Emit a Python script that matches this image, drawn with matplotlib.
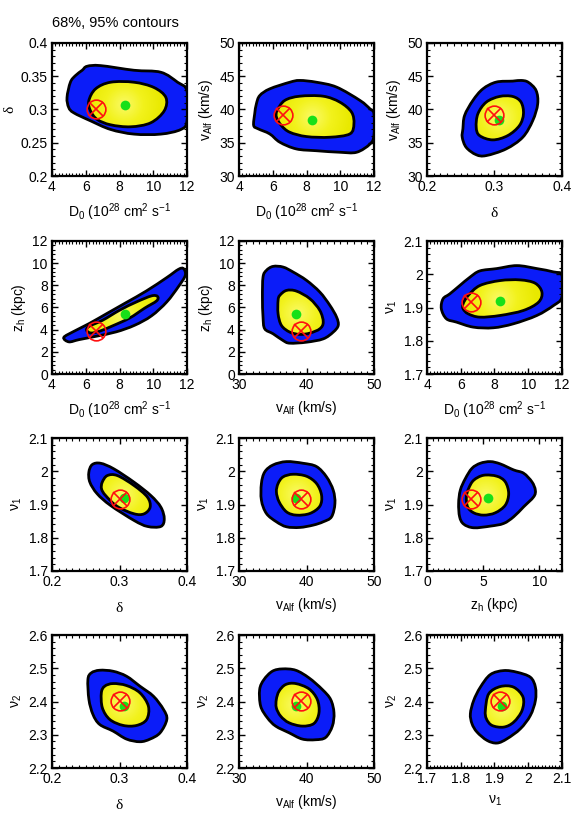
import numpy as np
import matplotlib
matplotlib.use('Agg')
import matplotlib.pyplot as plt
from matplotlib.path import Path
from matplotlib.patches import PathPatch
from matplotlib.ticker import AutoMinorLocator, FuncFormatter, FixedLocator
from matplotlib.colors import LinearSegmentedColormap

plt.rcParams['font.family'] = ['Liberation Sans', 'DejaVu Sans']
plt.rcParams['mathtext.fontset'] = 'custom'
plt.rcParams['mathtext.rm'] = 'Liberation Sans'
plt.rcParams['mathtext.it'] = 'Liberation Sans:italic'
plt.rcParams['mathtext.bf'] = 'Liberation Sans:bold'

# ---------------- data ----------------
param_names = ['D0', 'delta', 'vA', 'zh', 'nu1', 'nu2']
best_fit = [6.6, 0.300, 39.2, 3.9, 1.916, 2.403]
post_mean = [8.3, 0.307, 38.4, 5.45, 1.921, 2.385]

# panel pairs (x parameter, y parameter)
panel_pairs = [('D0', 'delta'), ('D0', 'vA'), ('delta', 'vA'),
               ('D0', 'zh'), ('vA', 'zh'), ('D0', 'nu1'),
               ('delta', 'nu1'), ('vA', 'nu1'), ('zh', 'nu1'),
               ('delta', 'nu2'), ('vA', 'nu2'), ('nu1', 'nu2')]

# 95% (outer) and 68% (inner) contour outlines
p1_out_x = [5.79, 6.08, 6.88, 8.86, 10.45, 11.44, 12.0, 12.0, 11.64, 10.45, 8.86, 7.47, 6.28, 5.29, 4.99, 4.89, 5.09, 5.39]
p1_out_y = [0.359, 0.365, 0.366, 0.359, 0.356, 0.341, 0.328, 0.283, 0.270, 0.263, 0.263, 0.270, 0.283, 0.295, 0.303, 0.318, 0.341, 0.351]
p1_in_x = [6.18, 6.58, 7.47, 8.86, 10.05, 10.75, 10.65, 9.85, 8.66, 7.47, 6.68, 6.28]
p1_in_y = [0.313, 0.331, 0.341, 0.341, 0.333, 0.318, 0.298, 0.280, 0.274, 0.277, 0.285, 0.298]

p2_out_x = [5.23, 5.82, 7.01, 7.60, 8.59, 9.78, 11.17, 11.76, 12.0, 12.0, 11.76, 10.97, 9.98, 8.59, 7.4, 6.42, 5.82, 5.13, 4.87, 4.93, 5.03]
p2_out_y = [42.1, 43.1, 44.1, 44.37, 44.1, 43.37, 41.36, 40.1, 39.35, 36.1, 34.8, 33.57, 33.57, 33.8, 34.07, 35.08, 36.33, 37.1, 37.6, 39.35, 40.85]
p2_in_x = [6.26, 6.71, 7.6, 8.99, 9.98, 10.67, 10.81, 10.57, 9.39, 8.0, 7.01, 6.51, 6.22]
p2_in_y = [39.85, 41.36, 42.0, 42.0, 41.1, 39.6, 37.84, 36.33, 35.83, 35.93, 36.58, 37.59, 38.84]

p3_out_x = [0.2532, 0.2557, 0.268, 0.2828, 0.3025, 0.327, 0.3394, 0.35, 0.3616, 0.364, 0.3567, 0.3419, 0.3172, 0.2877, 0.2729, 0.2581, 0.2522]
p3_out_y = [37.09, 39.1, 41.36, 43.1, 44.12, 44.27, 44.37, 44.1, 42.86, 40.85, 38.34, 35.83, 34.07, 33.07, 33.2, 34.3, 35.83]
p3_in_x = [0.2729, 0.2754, 0.2877, 0.3074, 0.327, 0.3394, 0.3429, 0.337, 0.3197, 0.2975, 0.2778]
p3_in_y = [37.34, 39.35, 41.1, 41.96, 41.96, 41.1, 39.35, 37.59, 36.08, 35.43, 36.08]

p4_out_x = [4.7, 5.3, 6.2, 7.3, 8.4, 9.6, 10.8, 11.5, 11.8, 11.9, 11.5, 10.8, 9.9, 8.9, 7.8, 6.6, 5.6, 5.0]
p4_out_y = [3.3, 3.85, 4.55, 5.5, 6.45, 7.5, 8.7, 9.45, 9.5, 8.9, 7.9, 6.5, 5.25, 4.4, 3.8, 3.4, 3.1, 2.9]
p4_in_x = [6.2, 7.0, 8.0, 9.0, 9.9, 10.25, 10.2, 9.5, 8.6, 7.6, 6.8, 6.3, 6.05]
p4_in_y = [4.3, 4.85, 5.75, 6.5, 7.05, 7.0, 6.6, 5.95, 5.05, 4.35, 3.85, 3.7, 3.95]

p5_out_x = [33.56, 34.06, 35.05, 36.53, 38.02, 40.0, 41.98, 43.47, 44.46, 44.7, 43.96, 42.48, 40.0, 37.52, 36.53, 35.05, 33.81, 33.56, 33.47]
p5_out_y = [8.75, 9.35, 9.71, 9.65, 9.2, 8.45, 7.39, 6.19, 5.13, 4.38, 3.78, 3.17, 2.87, 2.78, 3.02, 3.63, 4.08, 5.13, 6.94]
p5_in_x = [35.79, 36.04, 37.03, 38.51, 40.5, 41.98, 42.48, 41.98, 40.5, 39.0, 37.52, 36.29, 35.79]
p5_in_y = [6.64, 7.09, 7.54, 7.48, 6.79, 5.73, 4.68, 4.08, 3.69, 3.57, 3.78, 4.38, 5.43]

p6_out_x = [4.85, 4.95, 5.35, 5.94, 6.54, 7.13, 8.13, 9.32, 10.51, 11.5, 12.0, 12.0, 11.5, 10.51, 9.12, 7.93, 6.74, 5.75, 5.15]
p6_out_y = [1.896, 1.926, 1.941, 1.966, 1.991, 2.010, 2.017, 2.026, 2.017, 2.007, 1.997, 1.931, 1.906, 1.876, 1.851, 1.839, 1.841, 1.856, 1.866]
p6_in_x = [6.14, 6.44, 7.13, 8.33, 9.52, 10.41, 10.81, 10.61, 9.71, 8.33, 7.13, 6.44, 6.14]
p6_in_y = [1.911, 1.936, 1.966, 1.981, 1.983, 1.973, 1.946, 1.916, 1.891, 1.876, 1.871, 1.881, 1.896]

p7_out_x = [0.2546, 0.2596, 0.272, 0.2918, 0.3216, 0.3464, 0.3613, 0.3663, 0.3613, 0.3414, 0.3216, 0.2868, 0.267, 0.2561]
p7_out_y = [1.997, 2.02, 2.024, 2.007, 1.967, 1.927, 1.892, 1.857, 1.834, 1.834, 1.852, 1.897, 1.932, 1.967]
p7_in_x = [0.2744, 0.2819, 0.2968, 0.3216, 0.3414, 0.3454, 0.3365, 0.3216, 0.2968, 0.2794, 0.2734]
p7_in_y = [1.967, 1.987, 1.987, 1.957, 1.922, 1.892, 1.872, 1.872, 1.894, 1.927, 1.947]

p8_out_x = [33.32, 33.81, 35.05, 37.03, 39.5, 41.49, 42.97, 43.96, 44.21, 43.71, 42.48, 40.99, 39.0, 37.03, 35.54, 34.06, 33.32]
p8_out_y = [1.963, 1.998, 2.019, 2.029, 2.024, 2.014, 1.983, 1.943, 1.903, 1.863, 1.848, 1.838, 1.831, 1.833, 1.848, 1.873, 1.913]
p8_in_x = [35.79, 36.53, 38.02, 40.0, 41.49, 42.23, 41.98, 40.5, 38.51, 37.03, 35.94, 35.54]
p8_in_y = [1.963, 1.983, 1.991, 1.985, 1.963, 1.928, 1.895, 1.873, 1.868, 1.878, 1.908, 1.938]

p9_out_x = [2.81, 2.96, 3.41, 4.0, 4.74, 5.63, 6.52, 7.7, 8.59, 9.33, 9.63, 9.48, 8.59, 7.7, 6.81, 5.63, 4.15, 3.26, 2.9]
p9_out_y = [1.903, 1.943, 1.978, 2.009, 2.024, 2.029, 2.022, 2.004, 1.994, 1.968, 1.943, 1.923, 1.893, 1.863, 1.843, 1.835, 1.83, 1.841, 1.863]
p9_in_x = [3.5, 3.7, 4.15, 5.04, 6.22, 6.96, 7.26, 6.96, 6.07, 5.04, 4.15, 3.61]
p9_in_y = [1.923, 1.948, 1.973, 1.988, 1.985, 1.968, 1.933, 1.898, 1.875, 1.868, 1.875, 1.893]

p10_out_x = [0.2532, 0.2582, 0.2706, 0.2905, 0.3104, 0.3303, 0.3502, 0.3652, 0.3701, 0.3602, 0.3453, 0.3303, 0.3104, 0.2905, 0.2706, 0.2607, 0.2547]
p10_out_y = [2.466, 2.486, 2.494, 2.491, 2.476, 2.446, 2.416, 2.376, 2.346, 2.306, 2.287, 2.279, 2.287, 2.311, 2.331, 2.361, 2.406]
p10_in_x = [0.2731, 0.2781, 0.2905, 0.3104, 0.3303, 0.3428, 0.3403, 0.3254, 0.3055, 0.2856, 0.2746]
p10_in_y = [2.426, 2.446, 2.454, 2.448, 2.426, 2.386, 2.346, 2.328, 2.328, 2.346, 2.381]

p11_out_x = [33.06, 33.7, 34.94, 36.42, 38.4, 40.37, 42.35, 43.58, 44.07, 43.83, 42.84, 41.36, 39.38, 37.41, 35.43, 34.2, 33.21]
p11_out_y = [2.436, 2.466, 2.491, 2.498, 2.494, 2.471, 2.436, 2.406, 2.366, 2.326, 2.292, 2.285, 2.287, 2.306, 2.326, 2.351, 2.386]
p11_in_x = [35.53, 35.93, 36.91, 38.4, 40.37, 41.6, 41.85, 41.11, 39.38, 37.41, 36.17, 35.53]
p11_in_y = [2.406, 2.431, 2.451, 2.454, 2.438, 2.406, 2.366, 2.334, 2.326, 2.336, 2.356, 2.381]

p12_out_x = [1.8285, 1.8383, 1.858, 1.8877, 1.9273, 1.9668, 2.0063, 2.0212, 2.0212, 2.0063, 1.9767, 1.9372, 1.9075, 1.8779, 1.8482, 1.8334]
p12_out_y = [2.363, 2.403, 2.443, 2.481, 2.493, 2.488, 2.473, 2.443, 2.403, 2.358, 2.318, 2.288, 2.275, 2.283, 2.308, 2.333]
p12_in_x = [1.8729, 1.8828, 1.9174, 1.9569, 1.9846, 1.9816, 1.9569, 1.9273, 1.8927, 1.876]
p12_in_y = [2.373, 2.423, 2.445, 2.443, 2.413, 2.373, 2.338, 2.323, 2.328, 2.348]

outer_x = [p1_out_x, p2_out_x, p3_out_x, p4_out_x, p5_out_x, p6_out_x, p7_out_x, p8_out_x, p9_out_x, p10_out_x, p11_out_x, p12_out_x]
outer_y = [p1_out_y, p2_out_y, p3_out_y, p4_out_y, p5_out_y, p6_out_y, p7_out_y, p8_out_y, p9_out_y, p10_out_y, p11_out_y, p12_out_y]
inner_x = [p1_in_x, p2_in_x, p3_in_x, p4_in_x, p5_in_x, p6_in_x, p7_in_x, p8_in_x, p9_in_x, p10_in_x, p11_in_x, p12_in_x]
inner_y = [p1_in_y, p2_in_y, p3_in_y, p4_in_y, p5_in_y, p6_in_y, p7_in_y, p8_in_y, p9_in_y, p10_in_y, p11_in_y, p12_in_y]

# axis settings
axis_range = {'D0': (4, 12), 'delta': (0.2, 0.4), 'vA': (30, 50), 'zh': (0, 12),
              'nu1': (1.7, 2.1), 'nu2': (2.2, 2.6)}
ticks_as_y = {'delta': [0.2, 0.25, 0.3, 0.35, 0.4], 'vA': [30, 35, 40, 45, 50],
              'zh': [0, 2, 4, 6, 8, 10, 12], 'nu1': [1.7, 1.8, 1.9, 2.0, 2.1],
              'nu2': [2.2, 2.3, 2.4, 2.5, 2.6]}
ticks_as_x = {'D0': [4, 6, 8, 10, 12], 'delta': [0.2, 0.3, 0.4], 'vA': [30, 40, 50],
              'zh': [0, 5, 10], 'nu1': [1.7, 1.8, 1.9, 2.0, 2.1]}
labels = {'D0': r'D$_0$ (10$^{28}$ cm$^2$ s$^{-1}$',
          'delta': 'δ',
          'vA': r'v$_{\rm Alf}$ (km/s)',
          'zh': r'z$_{\rm h}$ (kpc)',
          'nu1': r'ν$_1$',
          'nu2': r'ν$_2$'}

BLUE = '#0b1cf8'
RED = '#ff1010'
GREEN = '#18e018'
ycmap = LinearSegmentedColormap.from_list('yel', ['#fafa66', '#f2f21c', '#e9e900'])


def smooth_path(xs, ys):
    P = np.column_stack([xs, ys]).astype(float)
    n = len(P)
    verts = [P[0]]
    codes = [Path.MOVETO]
    for i in range(n):
        p0, p1, p2, p3 = P[(i - 1) % n], P[i], P[(i + 1) % n], P[(i + 2) % n]
        verts += [p1 + (p2 - p0) / 6.0, p2 - (p3 - p1) / 6.0, p2]
        codes += [Path.CURVE4] * 3
    verts.append(P[0])
    codes.append(Path.CLOSEPOLY)
    return Path(verts, codes)


fig = plt.figure(figsize=(5.82, 8.21), dpi=100)
W, H = 582.0, 821.0
lefts_px = [52, 239, 427]
tops_px = [43, 241, 438, 635]
aw, ah = 135, 133

fmt = FuncFormatter(lambda v, p: '%g' % round(v, 4))

for k, (px, py) in enumerate(panel_pairs):
    r, c = divmod(k, 3)
    ax = fig.add_axes([lefts_px[c] / W, 1 - (tops_px[r] + ah) / H, aw / W, ah / H])
    xlim = axis_range[px]
    ylim = axis_range[py]

    op = smooth_path(outer_x[k], outer_y[k])
    ax.add_patch(PathPatch(op, facecolor=BLUE, edgecolor='black', lw=2.0, zorder=1))
    ip = smooth_path(inner_x[k], inner_y[k])
    ipatch = PathPatch(ip, facecolor='#f0f000', edgecolor='none', zorder=2)
    ax.add_patch(ipatch)
    # gentle radial shading of the yellow region
    cx = (np.mean(inner_x[k]) - xlim[0]) / (xlim[1] - xlim[0])
    cy = (np.mean(inner_y[k]) - ylim[0]) / (ylim[1] - ylim[0])
    gx, gy = np.meshgrid(np.linspace(0, 1, 200), np.linspace(0, 1, 200))
    rr = np.clip(np.hypot(gx - cx, gy - cy) / 0.28, 0, 1)
    im = ax.imshow(rr, extent=[xlim[0], xlim[1], ylim[0], ylim[1]], origin='lower',
                   cmap=ycmap, vmin=0, vmax=1, aspect='auto', zorder=2.1,
                   interpolation='bilinear')
    im.set_clip_path(ipatch)
    ax.add_patch(PathPatch(ip, facecolor='none', edgecolor='black', lw=2.0, zorder=2.2))

    ix = param_names.index(px)
    iy = param_names.index(py)
    ax.plot(post_mean[ix], post_mean[iy], 'o', color=GREEN, ms=7, mec='none', zorder=5)
    ax.plot(best_fit[ix], best_fit[iy], 'o', mfc='none', mec=RED, mew=1.2, ms=13.5, zorder=6)
    ax.plot(best_fit[ix], best_fit[iy], 'x', color=RED, mew=1.2, ms=9.5, zorder=6)

    ax.set_xlim(xlim)
    ax.set_ylim(ylim)
    ax.xaxis.set_major_locator(FixedLocator(ticks_as_x[px]))
    ax.yaxis.set_major_locator(FixedLocator(ticks_as_y[py]))
    ax.xaxis.set_major_formatter(fmt)
    ax.yaxis.set_major_formatter(fmt)
    ax.xaxis.set_minor_locator(AutoMinorLocator(10))
    ax.yaxis.set_minor_locator(AutoMinorLocator(5))
    ax.tick_params(which='both', direction='in', top=True, right=True, labelsize=10)
    ax.tick_params(which='major', length=4.5, width=1.0, pad=3)
    ax.tick_params(which='minor', length=2.2, width=0.8)
    for s in ax.spines.values():
        s.set_linewidth(1.6)

    if px == 'delta':
        ax.set_xlabel(labels[px], fontsize=11, family=['Liberation Serif', 'DejaVu Serif'], labelpad=9)
    else:
        ax.set_xlabel(labels[px], fontsize=10, labelpad=5)
    if py == 'delta':
        ax.set_ylabel(labels[py], fontsize=11, family=['Liberation Serif', 'DejaVu Serif'], labelpad=3)
    else:
        ax.set_ylabel(labels[py], fontsize=10, labelpad=3)

fig.text(52 / W, 1 - 23 / H, '68%, 95% contours', fontsize=10.5, va='center', ha='left')

fig.savefig('out.png', dpi=100)
